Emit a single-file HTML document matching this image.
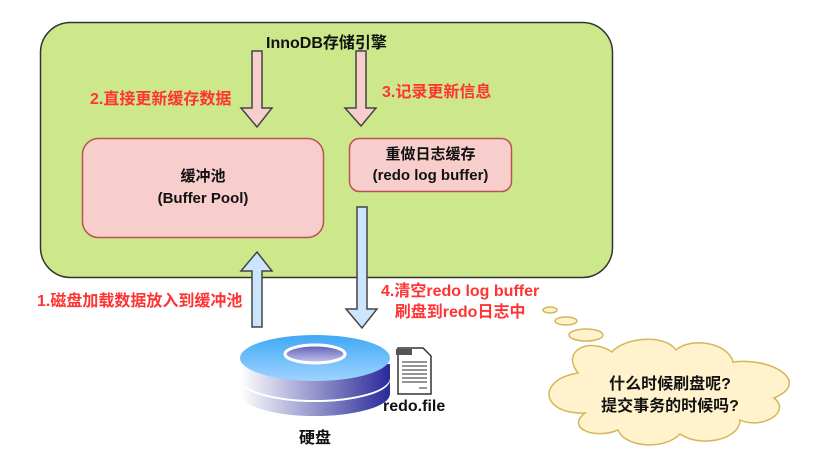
<!DOCTYPE html>
<html><head><meta charset="utf-8"><style>
body{margin:0;width:816px;height:460px;background:#fff;overflow:hidden;position:relative;font-family:"Liberation Sans","Noto Sans CJK SC",sans-serif}
.t{position:absolute;font-weight:bold;white-space:nowrap}
.r{color:#ff3333;font-size:16px}
</style></head><body>
<svg width="816" height="460" style="position:absolute;left:0;top:0">
<defs>
<linearGradient id="dt" x1="0" y1="0" x2="0" y2="1"><stop offset="0" stop-color="#3fa9f5"/><stop offset="1" stop-color="#9fd3ff"/></linearGradient>
<linearGradient id="ds" x1="0" y1="0" x2="1" y2="0"><stop offset="0" stop-color="#ffffff"/><stop offset="1" stop-color="#2a2a9a"/></linearGradient>
<linearGradient id="dh" x1="0" y1="0" x2="0" y2="1"><stop offset="0" stop-color="#5a5ab8"/><stop offset="1" stop-color="#c8c8f0"/></linearGradient>
</defs>
<rect x="40.5" y="22.5" width="572" height="255" rx="30" fill="#cce88a" stroke="#333" stroke-width="1.5"/>
<rect x="82.5" y="138.5" width="241" height="99" rx="16" fill="#f8cecc" stroke="#b85450" stroke-width="1.5"/>
<rect x="349.5" y="138.5" width="162" height="53" rx="10" fill="#f8cecc" stroke="#b85450" stroke-width="1.5"/>
<polygon points="252,51 262,51 262,108 272,108 257,127 241,108 252,108" fill="#f8cecc" stroke="#444" stroke-width="1.5"/>
<polygon points="356,51 366,51 366,108 376,108 361,126 345,108 356,108" fill="#f8cecc" stroke="#444" stroke-width="1.5"/>
<polygon points="257,252 272,271 262,271 262,327 252,327 252,271 241,271" fill="#cce5ff" stroke="#444" stroke-width="1.5"/>
<polygon points="357,207 367,207 367,309 377,309 362,328 346,309 357,309" fill="#cce5ff" stroke="#444" stroke-width="1.5"/>
<path d="M240,380 v14 a75,22 0 0 0 150,0 v-14 z" fill="url(#ds)"/>
<ellipse cx="315" cy="380" rx="75" ry="22" fill="#fff"/>
<path d="M240,364 v14 a75,22 0 0 0 150,0 v-14 z" fill="url(#ds)"/>
<ellipse cx="315" cy="358" rx="75" ry="23" fill="url(#dt)"/>
<ellipse cx="315" cy="354" rx="30" ry="9" fill="url(#dh)" stroke="#fff" stroke-width="3"/>
<path d="M398,348 h25 l8,8 v38 h-33 z" fill="#fff" stroke="#333" stroke-width="1.5"/>
<rect x="396" y="349" width="16" height="6" fill="#555"/>
<g stroke="#555" stroke-width="1.2"><line x1="402" y1="362" x2="427" y2="362"/><line x1="402" y1="366" x2="427" y2="366"/><line x1="402" y1="370" x2="427" y2="370"/><line x1="402" y1="374" x2="427" y2="374"/><line x1="402" y1="378" x2="427" y2="378"/><line x1="402" y1="382" x2="427" y2="382"/><line x1="419" y1="388" x2="427" y2="388"/></g>
<g fill="#fff2cc" stroke="#d6b656" stroke-width="1.5">
<ellipse cx="550" cy="310" rx="7" ry="3"/>
<ellipse cx="566" cy="321" rx="11" ry="4"/>
<ellipse cx="586" cy="335" rx="17" ry="6"/>
<path d="M578,373 C560,350 590,337 612,352 C625,337 665,334 676,350 C690,337 728,342 733,362 C772,357 812,382 774,398 C792,412 762,430 740,420 C740,440 700,448 680,434 C665,450 625,448 618,430 C595,440 565,428 585,413 C542,415 535,380 578,373 Z"/>
</g>
</svg>
<div class="t" style="left:266px;top:29px;font-size:16px;color:#111">InnoDB存储引擎</div>
<div class="t r" style="left:90px;top:85px">2.直接更新缓存数据</div>
<div class="t r" style="left:382px;top:78px">3.记录更新信息</div>
<div class="t" style="left:82px;width:242px;text-align:center;top:166px;font-size:15px;color:#111;line-height:22px">缓冲池<br>(Buffer Pool)</div>
<div class="t" style="left:349px;width:163px;text-align:center;top:144px;font-size:15px;color:#111;line-height:21px">重做日志缓存<br>(redo log buffer)</div>
<div class="t r" style="left:37px;top:287px">1.磁盘加载数据放入到缓冲池</div>
<div class="t r" style="left:381px;top:281px;text-align:center;line-height:21px">4.清空redo log buffer<br>刷盘到redo日志中</div>
<div class="t" style="left:383px;top:398px;font-size:16px;color:#111">redo.file</div>
<div class="t" style="left:299px;top:424px;font-size:16px;color:#111">硬盘</div>
<div class="t" style="left:590px;top:374px;width:160px;text-align:center;font-size:16px;color:#111;line-height:22px">什么时候刷盘呢?<br>提交事务的时候吗?</div>
</body></html>
